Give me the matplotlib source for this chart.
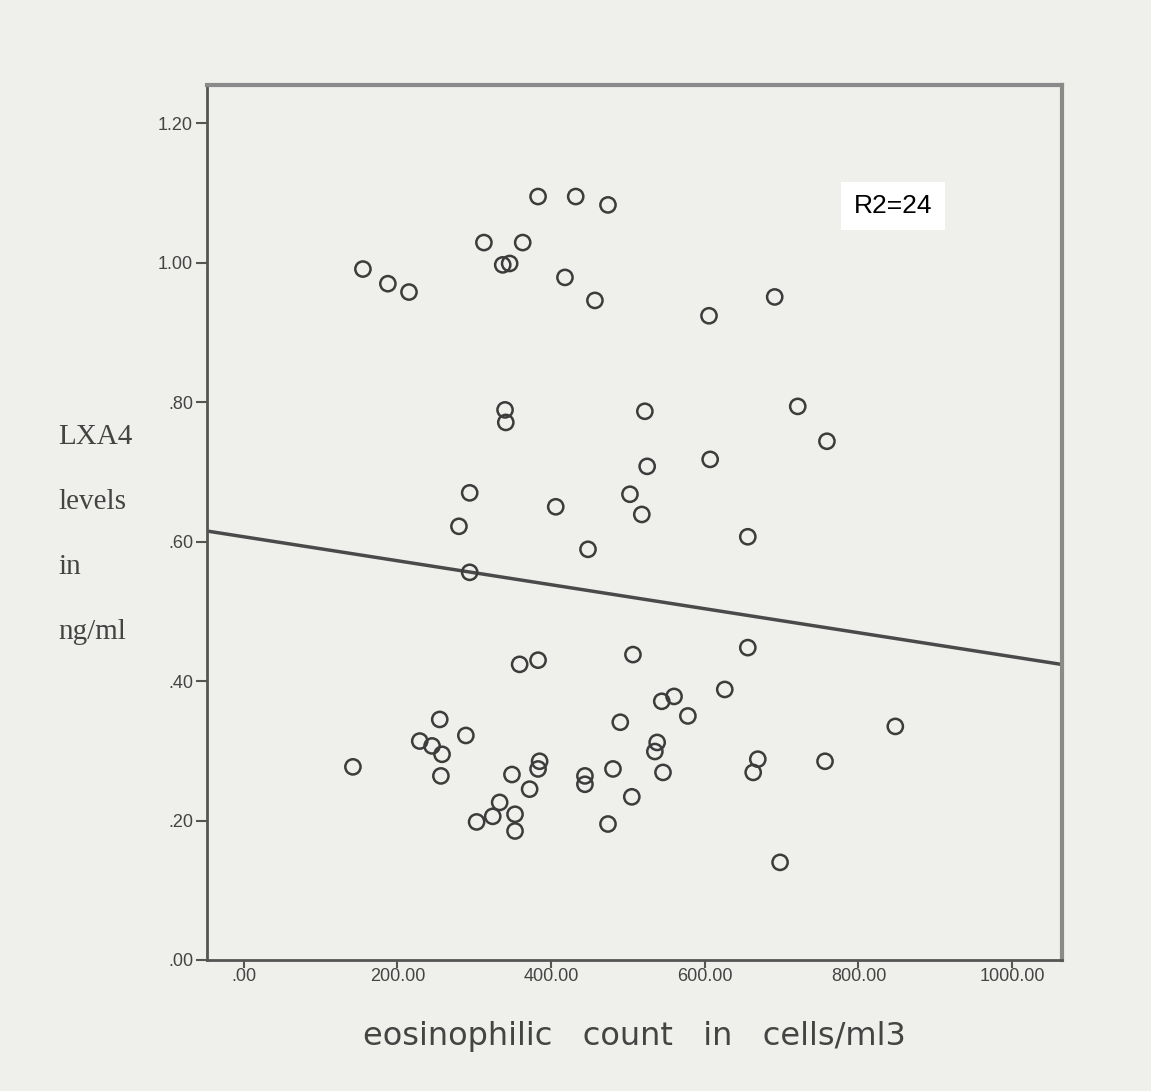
import matplotlib
matplotlib.use("Agg")
import matplotlib.pyplot as plt
import numpy as np

# values
eos_count = [155, 187.5, 215, 312.5, 363, 337, 346, 383, 432, 474,
             418, 457, 605.5, 691, 340, 341, 522, 721, 759, 607,
             525, 294, 502.6, 406, 518, 280, 656, 448, 294, 359,
             383, 506.5, 656, 626, 560, 544, 578, 490, 848, 255,
             289, 229, 245, 258, 256.5, 142, 538, 535, 545.6, 385,
             383, 349, 372, 444, 444, 480.5, 669, 663, 756.5, 505,
             333, 324, 303, 353, 353, 474, 698]
lxa4 = [0.991, 0.970, 0.958, 1.029, 1.029, 0.997, 0.999, 1.095, 1.095, 1.083,
        0.979, 0.946, 0.924, 0.951, 0.789, 0.771, 0.787, 0.794, 0.744, 0.718,
        0.708, 0.670, 0.668, 0.650, 0.639, 0.622, 0.607, 0.589, 0.556, 0.424,
        0.430, 0.438, 0.448, 0.388, 0.378, 0.371, 0.350, 0.341, 0.335, 0.345,
        0.322, 0.314, 0.307, 0.295, 0.264, 0.277, 0.312, 0.299, 0.269, 0.285,
        0.274, 0.266, 0.245, 0.264, 0.252, 0.274, 0.288, 0.269, 0.285, 0.234,
        0.226, 0.206, 0.198, 0.209, 0.185, 0.195, 0.140]

# fit line as drawn
intercept = 0.607
slope = -0.000172

x_ticks = [0, 200, 400, 600, 800, 1000]
x_labels = [".00", "200.00", "400.00", "600.00", "800.00", "1000.00"]
y_ticks = [0, 0.2, 0.4, 0.6, 0.8, 1.0, 1.2]
y_labels = [".00", ".20", ".40", ".60", ".80", "1.00", "1.20"]
ylabel_lines = ["LXA4", "levels", "in", "ng/ml"]

paper = "#eff0ec"
ink = "#3c3c3c"

fig = plt.figure(figsize=(11.51, 10.91), dpi=100, facecolor=paper)
ax = fig.add_axes([0.1798, 0.1201, 0.7429, 0.802], facecolor=paper)

xmin, xmax = -48, 1065
ax.set_xlim(xmin, xmax)
ax.set_ylim(0, 1.255)

ax.scatter(eos_count, lxa4, s=120, facecolors="none", edgecolors=ink, linewidths=1.8, zorder=3)

line_x = np.array([xmin, xmax])
ax.plot(line_x, intercept + slope * line_x, color="#4a4a4a", lw=2.5, zorder=2)

ax.set_xticks(x_ticks)
ax.set_xticklabels(x_labels, fontsize=13, family="Liberation Sans", color="#444444")
ax.set_yticks(y_ticks)
ax.set_yticklabels(y_labels, fontsize=13, family="Liberation Sans", color="#444444")
ax.tick_params(axis="y", direction="out", length=8, width=1.5, color="#555555", pad=2)
ax.tick_params(axis="x", direction="out", length=6, width=1.5, color="#555555", pad=0)

for side in ["top", "right"]:
    ax.spines[side].set_color("#8a8a8a")
    ax.spines[side].set_linewidth(3)
for side in ["left", "bottom"]:
    ax.spines[side].set_color("#555555")
    ax.spines[side].set_linewidth(2)

# R2 annotation in white box
fig.text(893 / 1151, 1 - 206 / 1091, "R2=24", ha="center", va="center",
         fontsize=19, family="Liberation Sans", color="black",
         bbox=dict(facecolor="white", edgecolor="none", pad=9))

ax.set_xlabel("eosinophilic   count   in   cells/ml3", fontsize=23,
              family="DejaVu Sans", color="#444444", labelpad=26)

for i, line in enumerate(ylabel_lines):
    fig.text(58 / 1151, 1 - (437 + i * 65) / 1091, line, ha="left", va="center",
             fontsize=21, family="Liberation Serif", color="#444444")

fig.savefig("out.png", dpi=100, facecolor=paper)
